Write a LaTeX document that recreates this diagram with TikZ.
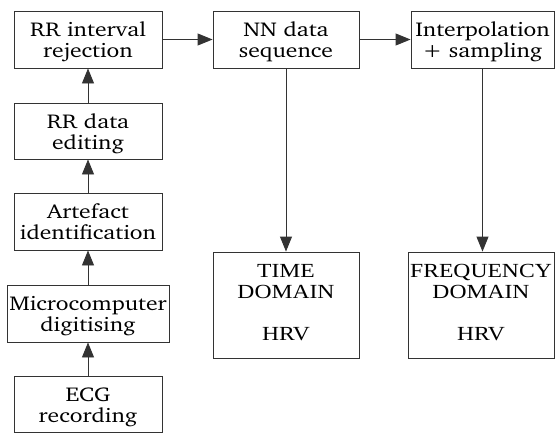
\documentclass[tikz,border=0pt]{standalone}
\usepackage{fontspec}
\usepackage[T1]{fontenc}
\usepackage{graphicx}
\newfontfamily\hrvfont{Liberation Serif}
\newcommand\chfont{\fontencoding{T1}\fontfamily{bch}\selectfont}
% widened text block, one line per row; #1 = extra room above the first row
\newcommand\wtext[2][7pt]{\scalebox{1.18}[1]{\begin{tabular}{@{}c@{}}\rule{0pt}{\dimexpr 14.7pt+#1\relax}#2\end{tabular}}}
\usetikzlibrary{arrows.meta}
\begin{document}
\begin{tikzpicture}[x=1pt,y=-1pt,
    stage/.style={draw=black!80,line width=0.9pt,align=center,inner sep=0pt,
      font=\chfont\fontsize{20}{21}\selectfont},
    result/.style={stage,font=\hrvfont\fontsize{20}{21}\selectfont},
    flow/.style={draw=black!80,line width=0.9pt,-{Triangle[length=15pt,width=12pt]}}]
  \useasboundingbox (0,0) rectangle (555,432);
  \node[stage,minimum width=148pt,minimum height=57pt] (rr)     at (88,39.5)    {\wtext{RR interval\\rejection}};
  \node[stage,minimum width=146pt,minimum height=57pt] (nn)     at (286,39.5)   {\wtext{NN data\\sequence}};
  \node[stage,minimum width=143pt,minimum height=57pt] (interp) at (482.5,39.5) {\wtext{Interpolation\\+ sampling}};
  \node[stage,minimum width=148pt,minimum height=56pt] (edit)   at (88,131)     {\wtext{RR data\\editing}};
  \node[stage,minimum width=148pt,minimum height=57pt] (art)    at (88,221.5)   {\wtext{Artefact\\identification}};
  \node[stage,minimum width=162pt,minimum height=57pt] (micro)  at (88,313.5)   {\wtext{Microcomputer\\digitising}};
  \node[stage,minimum width=148pt,minimum height=56pt] (ecg)    at (88,404)     {\wtext{ECG\\recording}};
  \node[result,minimum width=146pt,minimum height=106pt] (time) at (286,305)    {\wtext[0pt]{TIME\\DOMAIN\\ \\HRV}};
  \node[result,minimum width=146pt,minimum height=106pt] (freq) at (481,305)    {\wtext[0pt]{FREQUENCY\\DOMAIN\\ \\HRV}};

  \draw[flow] (ecg) -- (micro);
  \draw[flow] (micro) -- (art);
  \draw[flow] (art) -- (edit);
  \draw[flow] (edit) -- (rr);
  \draw[flow] (rr) -- (nn);
  \draw[flow] (nn) -- (interp);
  \draw[flow] (nn.south) -- (time.north);
  \draw[flow] (interp.south) -- (interp.south |- freq.north);
\end{tikzpicture}
\end{document}
